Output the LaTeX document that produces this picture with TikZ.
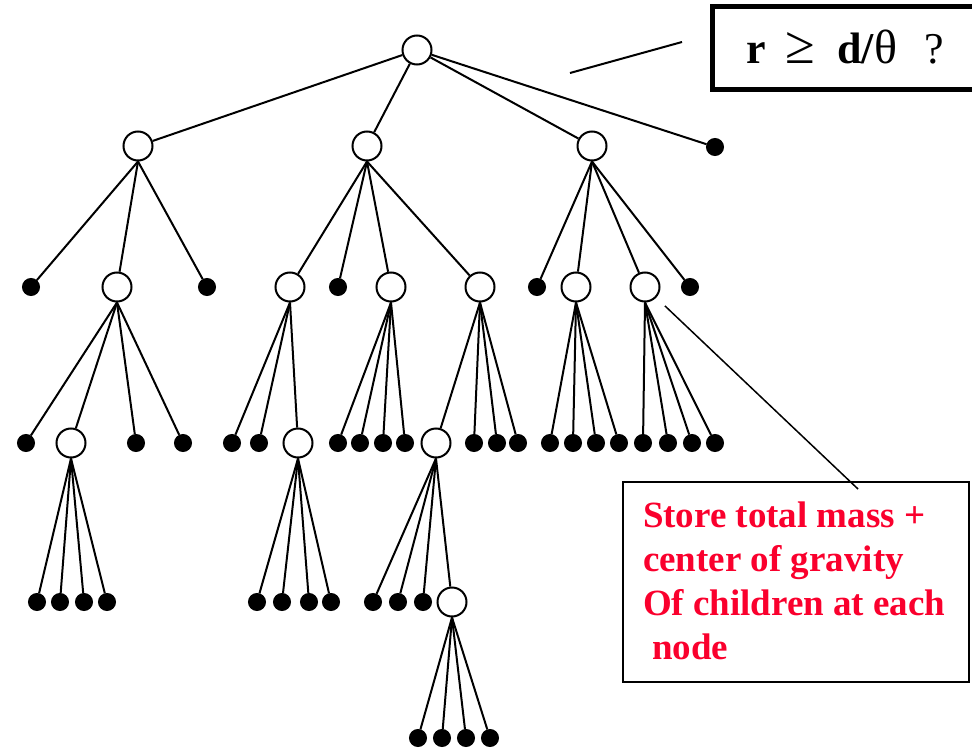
\documentclass[tikz,border=0pt]{standalone}
\usepackage{fontspec}
\setmainfont{Liberation Serif}
\definecolor{notered}{RGB}{250,0,45}

\begin{document}
\begin{tikzpicture}
[x=1pt,y=-1pt,line width=2pt,every node/.style={circle,draw,fill=white,minimum size=29pt,inner sep=0pt},
 leaf/.style={fill=black,minimum size=16pt},
 txt/.style={rectangle,draw=none,fill=none,minimum size=0pt,inner sep=0pt,font=\fontsize{37}{44}\selectfont\bfseries}]

\useasboundingbox (0,0) rectangle (972,749);
\clip (0,0) rectangle (972,749);

%inner cells
\node (root) at (417,50) {};
\node (a) at (138,146) {};
\node (b) at (367,146) {};
\node (c) at (592,146) {};
\node (d) at (117,287) {};
\node (e) at (290,287) {};
\node (f) at (391,287) {};
\node (g) at (480,287) {};
\node (h) at (576,287) {};
\node (i) at (645,287) {};
\node (j) at (71,443) {};
\node (k) at (298,443) {};
\node (l) at (436,443) {};
\node (m) at (452,602) {};

%bodies
\node[leaf] (r1) at (715,147) {};
\node[leaf] (a1) at (31,287) {};
\node[leaf] (a2) at (207,287) {};
\node[leaf] (b1) at (338,287) {};
\node[leaf] (c1) at (537,287) {};
\node[leaf] (c2) at (690,287) {};
\node[leaf] (d1) at (26,443) {};
\node[leaf] (d2) at (136,443) {};
\node[leaf] (d3) at (183,443) {};
\node[leaf] (e1) at (232,443) {};
\node[leaf] (e2) at (259,443) {};
\foreach \n/\x in {1/338,2/360,3/383,4/405}
\node[leaf] (f\n) at (\x,443) {};
\foreach \n/\x in {1/474,2/497,3/518}
\node[leaf] (g\n) at (\x,443) {};
\foreach \n/\x in {1/550,2/573,3/596,4/619}
\node[leaf] (h\n) at (\x,443) {};
\foreach \n/\x in {1/643,2/668,3/692,4/715}
\node[leaf] (i\n) at (\x,443) {};
\foreach \n/\x in {1/37,2/60,3/84,4/107}
\node[leaf] (j\n) at (\x,602) {};
\foreach \n/\x in {1/257,2/282,3/309,4/331}
\node[leaf] (k\n) at (\x,602) {};
\foreach \n/\x in {1/373,2/398,3/423}
\node[leaf] (l\n) at (\x,602) {};
\foreach \n/\x in {1/418,2/442,3/466,4/490}
\node[leaf] (m\n) at (\x,738) {};

%tree
\foreach \to in {a,b,c,r1}
\draw (root) -- (\to);

\foreach \from/\to in {a/a1,a/d,a/a2,b/e,b/b1,b/f,b/g,c/c1,c/h,c/i,c/c2,
  d/d1,d/j,d/d2,d/d3,e/e1,e/e2,e/k,f/f1,f/f2,f/f3,f/f4,g/l,g/g1,g/g2,g/g3,
  h/h1,h/h2,h/h3,h/h4,i/i1,i/i2,i/i3,i/i4,j/j1,j/j2,j/j3,j/j4,
  k/k1,k/k2,k/k3,k/k4,l/l1,l/l2,l/l3,l/m,m/m1,m/m2,m/m3,m/m4}
\draw (\from.south) -- (\to);

%opening criterion
\draw[line width=5pt] (712,6.5) rectangle (990,90);
\node[txt,font=\fontsize{44}{50}\selectfont,anchor=base west] (crit) at (745,64)
  {\textbf{r}\hspace{20pt}{\fontsize{54}{50}\selectfont ≥}\hspace{22pt}\textbf{d/}{\fontsize{48}{50}\selectfont θ}\hspace{27pt}?};
\coordinate (q1) at (570,73);
\coordinate (q2) at (682,42);
\draw (q1) -- (q2);

%stored data
\draw[line width=2pt] (623,482) rectangle (969,682);
\node[txt,text=notered,anchor=base west] (s1) at (642,527) {Store total mass +};
\node[txt,text=notered,anchor=base west] (s2) at (642,571) {center of gravity};
\node[txt,text=notered,anchor=base west] (s3) at (642,615) {Of children at each};
\node[txt,text=notered,anchor=base west] (s4) at (651,659) {node};
\coordinate (tip) at (858,489);
\draw[line width=1.5pt,shorten <=12pt] (i) -- (tip);

\end{tikzpicture}
\end{document}
